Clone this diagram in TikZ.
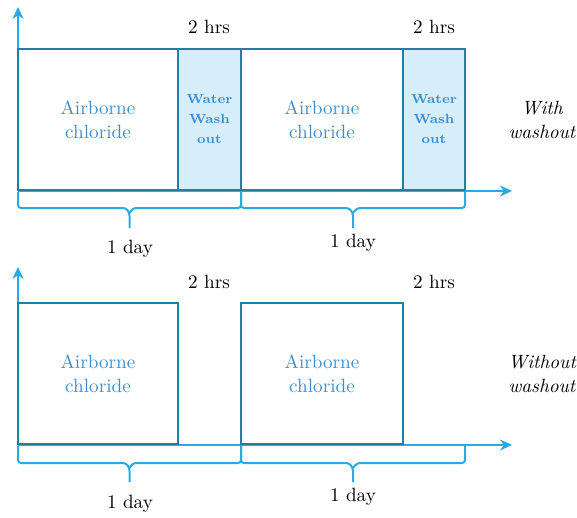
\documentclass[tikz,border=0pt]{standalone}
\usetikzlibrary{arrows.meta, positioning, calc}

\definecolor{boxedge}{HTML}{1F7FA9}
\definecolor{axisblue}{HTML}{29ABE2}
\definecolor{washfill}{HTML}{D6EEF9}
\definecolor{labelblue}{HTML}{3A8FD3}

\begin{document}
\begin{tikzpicture}[
  x=0.5pt, y=-0.5pt,
  axis/.style={draw=axisblue, line width=1pt, -{Stealth[length=6pt, width=5.5pt]}},
  brace/.style={draw=axisblue, line width=1pt, rounded corners=1.5pt},
  box/.style={draw=boxedge, line width=1pt, inner sep=0pt, outer sep=0pt,
    minimum height=70.5pt, align=center, text=labelblue,
    font=\fontsize{9.6}{12}\selectfont},
  airbox/.style={box},
  washbox/.style={box, fill=washfill, font=\fontsize{6.6}{10}\selectfont\bfseries},
  lbl/.style={align=center, font=\fontsize{9.6}{12}\selectfont},
  case/.style={align=center, font=\fontsize{9.6}{12}\selectfont\itshape},
]
  \useasboundingbox (0,0) rectangle (577,518);

  % ---------- With washout ----------
  % Axes
  \coordinate (O1) at (18,191);
  \coordinate (Y1) at (18,7);
  \coordinate (X1) at (512,191);
  \draw[axis] (O1) -- (Y1);
  \draw[axis] (O1) -- (X1);

  % Boxes
  \node[airbox, minimum width=80pt] (A1) at (98,119.5) {Airborne\\chloride};
  \node[washbox, minimum width=31.5pt, right=0pt of A1] (W1) {Water\\Wash\\out};
  \node[airbox, minimum width=81pt, right=0pt of W1] (A2) {Airborne\\chloride};
  \node[washbox, minimum width=31pt, right=0pt of A2] (W2) {Water\\Wash\\out};

  % Labels
  \node[lbl] (H1) at (209,27) {2 hrs};
  \node[lbl] (H2) at (434,27) {2 hrs};
  \node[case] (C1) at (542,120) {With\\washout};

  % Day braces
  \draw[brace] (18,192) |- (126,208) -- (129.5,213) -- (129.5,228);
  \draw[brace] (241,192) |- (133,208) -- (129.5,213);
  \draw[brace] (241,192) |- (349,208) -- (353,213) -- (353,228);
  \draw[brace] (465,192) |- (357,208) -- (353,213);
  \node[lbl] (D1) at (130,249) {1 day};
  \node[lbl] (D2) at (353,243) {1 day};

  % ---------- Without washout ----------
  % Axes
  \coordinate (O2) at (18,445);
  \coordinate (Y2) at (18,267);
  \coordinate (X2) at (512,445);
  \draw[axis] (O2) -- (Y2);
  \draw[axis] (O2) -- (X2);

  % Boxes
  \node[airbox, minimum width=80pt] (A3) at (98,373.5) {Airborne\\chloride};
  \node[airbox, minimum width=81pt, right=31.5pt of A3] (A4) {Airborne\\chloride};

  % Labels
  \node[lbl] (H3) at (209,282) {2 hrs};
  \node[lbl] (H4) at (434,282) {2 hrs};
  \node[case] (C2) at (542,374) {Without\\washout};

  % Day braces
  \draw[brace] (18,446) |- (126,463) -- (129.5,468) -- (129.5,482);
  \draw[brace] (241,446) |- (133,463) -- (129.5,468);
  \draw[brace] (241,446) |- (349,463) -- (353,468) -- (353,482);
  \draw[brace] (465,446) |- (357,463) -- (353,468);
  \node[lbl] (D3) at (130,504) {1 day};
  \node[lbl] (D4) at (353,497) {1 day};
\end{tikzpicture}
\end{document}
